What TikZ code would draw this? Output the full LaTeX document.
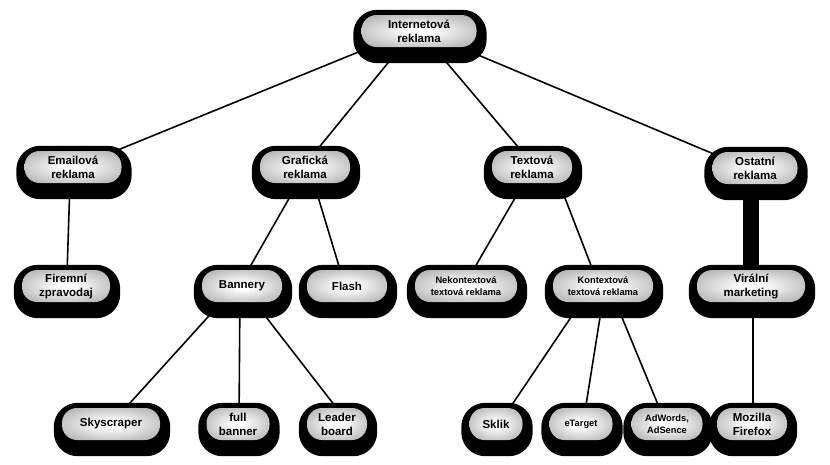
\documentclass[tikz,border=0pt]{standalone}
\usepackage{fontspec}
\setmainfont{Liberation Sans}
\usetikzlibrary{calc}
\pgfdeclareradialshading{pillshade}{\pgfpoint{0bp}{0bp}}{color(0bp)=(white); color(5bp)=(white); color(50bp)=(black!50); color(70bp)=(black!50)}
\pgfdeclarelayer{lines}
\pgfdeclarelayer{shells}
\pgfsetlayers{lines,shells,main}
\tikzset{
  pill/.style={rounded corners=15pt, shade, shading=pillshade, minimum height=32pt,
    align=center, inner sep=1pt, font=\bfseries\fontsize{11.5}{14}\selectfont},
  smalltext/.style={font=\bfseries\fontsize{9.3}{11.5}\selectfont},
  shell/.style={fill=black, rounded corners=24pt},
  link/.style={line width=1.6pt},
  thicklink/.style={line width=16pt},
}
\begin{document}
\begin{tikzpicture}[x=1pt,y=-1pt]
\useasboundingbox (0,0) rectangle (830,464);
% nodes (inner grey pills)
\node[pill, minimum width=115pt] (top) at (419,31) {Internetová\\reklama};
\node[pill, minimum width=97pt] (email) at (73,167) {Emailová\\reklama};
\node[pill, minimum width=90pt] (graf) at (305,167) {Grafická\\reklama};
\node[pill, minimum width=80pt] (text) at (532,167) {Textová\\reklama};
\node[pill, minimum width=85pt] (ost) at (755,168) {Ostatní\\reklama};
\node[pill, minimum width=88pt] (firem) at (66,286) {Firemní\\zpravodaj};
\node[pill, minimum width=80pt] (bann) at (242,286) {Bannery};
\node[pill, minimum width=80pt] (flash) at (347,286) {Flash};
\node[pill, smalltext, minimum width=102pt] (nekon) at (466,286) {Nekontextová\\textová reklama};
\node[pill, smalltext, minimum width=100pt] (kon) at (603,286) {Kontextová\\textová reklama};
\node[pill, minimum width=108pt] (viral) at (751,286) {Virální\\marketing};
\node[pill, minimum width=98pt] (sky) at (111,424) {Skyscraper};
\node[pill, minimum width=63pt] (full) at (238,424) {full\\banner};
\node[pill, minimum width=60pt] (lead) at (337,424) {Leader\\board};
\node[pill, minimum width=53pt] (sklik) at (496,424) {Sklik};
\node[pill, smalltext, minimum width=63pt] (etarget) at (581,424) {eTarget};
\node[pill, smalltext, minimum width=71pt] (adwords) at (667,424) {AdWords,\\AdSence};
\node[pill, minimum width=70pt] (mozilla) at (752,424) {Mozilla\\Firefox};
% black shells
\begin{pgfonlayer}{shells}
\foreach \n in {top,email,graf,text,ost,firem,bann,flash,nekon,kon,viral,sky,full,lead,sklik,etarget,adwords,mozilla}
  {\fill[shell] ($(\n.south west)+(-8,16)$) rectangle ($(\n.north east)+(10,-5)$);}
\end{pgfonlayer}
% connectors
\begin{pgfonlayer}{lines}
\draw[link] ($(top.center)+(-9,0)$) -- ($(email.center)+(3,0)$);
\draw[link] ($(top.center)+(-5,0)$) -- ($(graf.center)+(-2,0)$);
\draw[link] ($(top.center)+(1,0)$) -- ($(text.center)+(3,0)$);
\draw[link] ($(top.center)+(2,0)$) -- ($(ost.center)+(-8,0)$);
\draw[link] ($(email.center)+(-2.5,0)$) -- ($(firem.center)+(0.6,0)$);
\draw[link] ($(graf.center)+(2,0)$) -- ($(bann.center)+(-3,0)$);
\draw[link] ($(graf.center)+(4,0)$) -- ($(flash.center)+(-2,0)$);
\draw[link] ($(text.center)+(1,0)$) -- ($(nekon.center)+(-2,0)$);
\draw[link] ($(text.center)+(21,0)$) -- ($(kon.center)+(-4,0)$);
\draw[thicklink] ($(ost.center)+(-4,0)$) -- (viral.center);
\draw[link] ($(bann.center)+(-6,0)$) -- (sky.center);
\draw[link] ($(bann.center)+(-2,0)$) -- ($(full.center)+(1,0)$);
\draw[link] (bann.center) -- ($(lead.center)+(12,0)$);
\draw[link] ($(kon.center)+(-11,0)$) -- ($(sklik.center)+(3,0)$);
\draw[link] ($(kon.center)+(2,0)$) -- ($(etarget.center)+(2,0)$);
\draw[link] ($(kon.center)+(6,0)$) -- ($(adwords.center)+(-1,0)$);
\draw[link] ($(viral.center)+(2,0)$) -- ($(mozilla.center)+(1,0)$);
\end{pgfonlayer}
\end{tikzpicture}
\end{document}
